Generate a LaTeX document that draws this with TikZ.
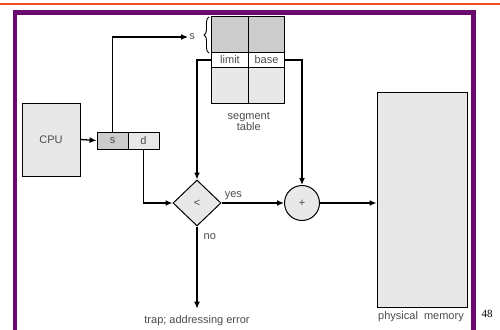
\documentclass[tikz,border=0pt]{standalone}
\usepackage{fontspec}
\setmainfont{Liberation Sans}
\newfontfamily\pagenumfont{Liberation Serif}
\usepackage{xcolor}
\usetikzlibrary{arrows.meta, positioning, shapes.geometric, decorations.pathreplacing}

\definecolor{framepurple}{HTML}{6A0A6E}
\definecolor{toporange}{HTML}{F04A24}
\definecolor{textgray}{HTML}{4A4A4A}

\begin{document}
\begin{tikzpicture}[
    x=1pt, y=-1pt,
    box/.style={draw, line width=1pt, fill=gray!18, inner sep=0pt,
                font=\fontsize{11}{13}\selectfont\color{textgray}},
    cell/.style={box, minimum height=17pt},
    entry/.style={draw, line width=1pt, inner sep=0pt, minimum width=36.5pt},
    arrow/.style={-{Latex[length=7pt, width=6pt]}, line width=1.3pt},
    label/.style={font=\fontsize{11}{13}\selectfont\color{textgray}, inner sep=1pt},
]
\useasboundingbox (0,0) rectangle (500,329);

% slide frame
\draw[toporange, line width=2pt] (0,4) -- (500,4);
\draw[framepurple, line width=4.5pt] (15,335) -- (15,12.5) -- (473.5,12.5) -- (473.5,335);
\node[font=\pagenumfont\fontsize{11}{13}\selectfont] (pagenum) at (487,314) {48};

% cpu and logical address
\node[box, minimum width=58pt, minimum height=73pt] (cpu) at (51,139.5) {CPU};
\node[cell, minimum width=31pt, fill=gray!40] (scell) at (112.5,140.5) {s};
\node[cell, minimum width=31pt] (dcell) at (143.5,140.5) {d};

% segment table
\node[entry, minimum height=36pt, fill=gray!40] (t1) at (230,35) {};
\node[entry, minimum height=36pt, fill=gray!40] (t2) at (266.5,35) {};
\node[entry, minimum height=14pt, label] (lim) at (230,60) {limit};
\node[entry, minimum height=14pt, label] (bas) at (266.5,60) {base};
\node[entry, minimum height=36pt, fill=gray!18] (t3) at (230,85) {};
\node[entry, minimum height=36pt, fill=gray!18] (t4) at (266.5,85) {};
\node[label, align=center, below=8pt of t3.south east] (segtab) {segment\\[-2pt]table};
\node[label] (slabel) at (192,37) {s};
\draw[line width=0.9pt, decorate, decoration={brace, amplitude=5pt}] (209,53) -- (209,17);

% comparison and adder
\node[draw, diamond, line width=1pt, fill=gray!18, inner sep=0pt,
      minimum width=48pt, minimum height=46pt, label] (cmp) at (197,203) {<};
\node[draw, circle, line width=1pt, fill=gray!18, inner sep=0pt,
      minimum size=35pt, label] (add) at (302,203) {+};

% physical memory
\node[box, minimum width=90pt, minimum height=215pt] (mem) at (422,199.5) {};
\node[label] (memlabel) at (421,317) {physical\ \ memory};
\node[label] (trap) at (197,321) {trap; addressing error};

% connectors
\draw[arrow] (cpu.east) -- (scell.west);
\draw[arrow] (scell.north) |- (slabel.west);
\draw[arrow] (dcell.south) |- (cmp.west);
\draw[arrow] (lim.west) -| (cmp.north);
\draw[arrow] (bas.east) -| (add.north);
\draw[arrow] (cmp.east) -- node[label, above=2pt, pos=0.19] {yes} (add.west);
\draw[arrow] (add.east) -- (add.east -| mem.west);
\draw[arrow, shorten >=6pt] (cmp.south) -- node[label, right=5pt, pos=0.12] {no} (trap.north);

\end{tikzpicture}
\end{document}
